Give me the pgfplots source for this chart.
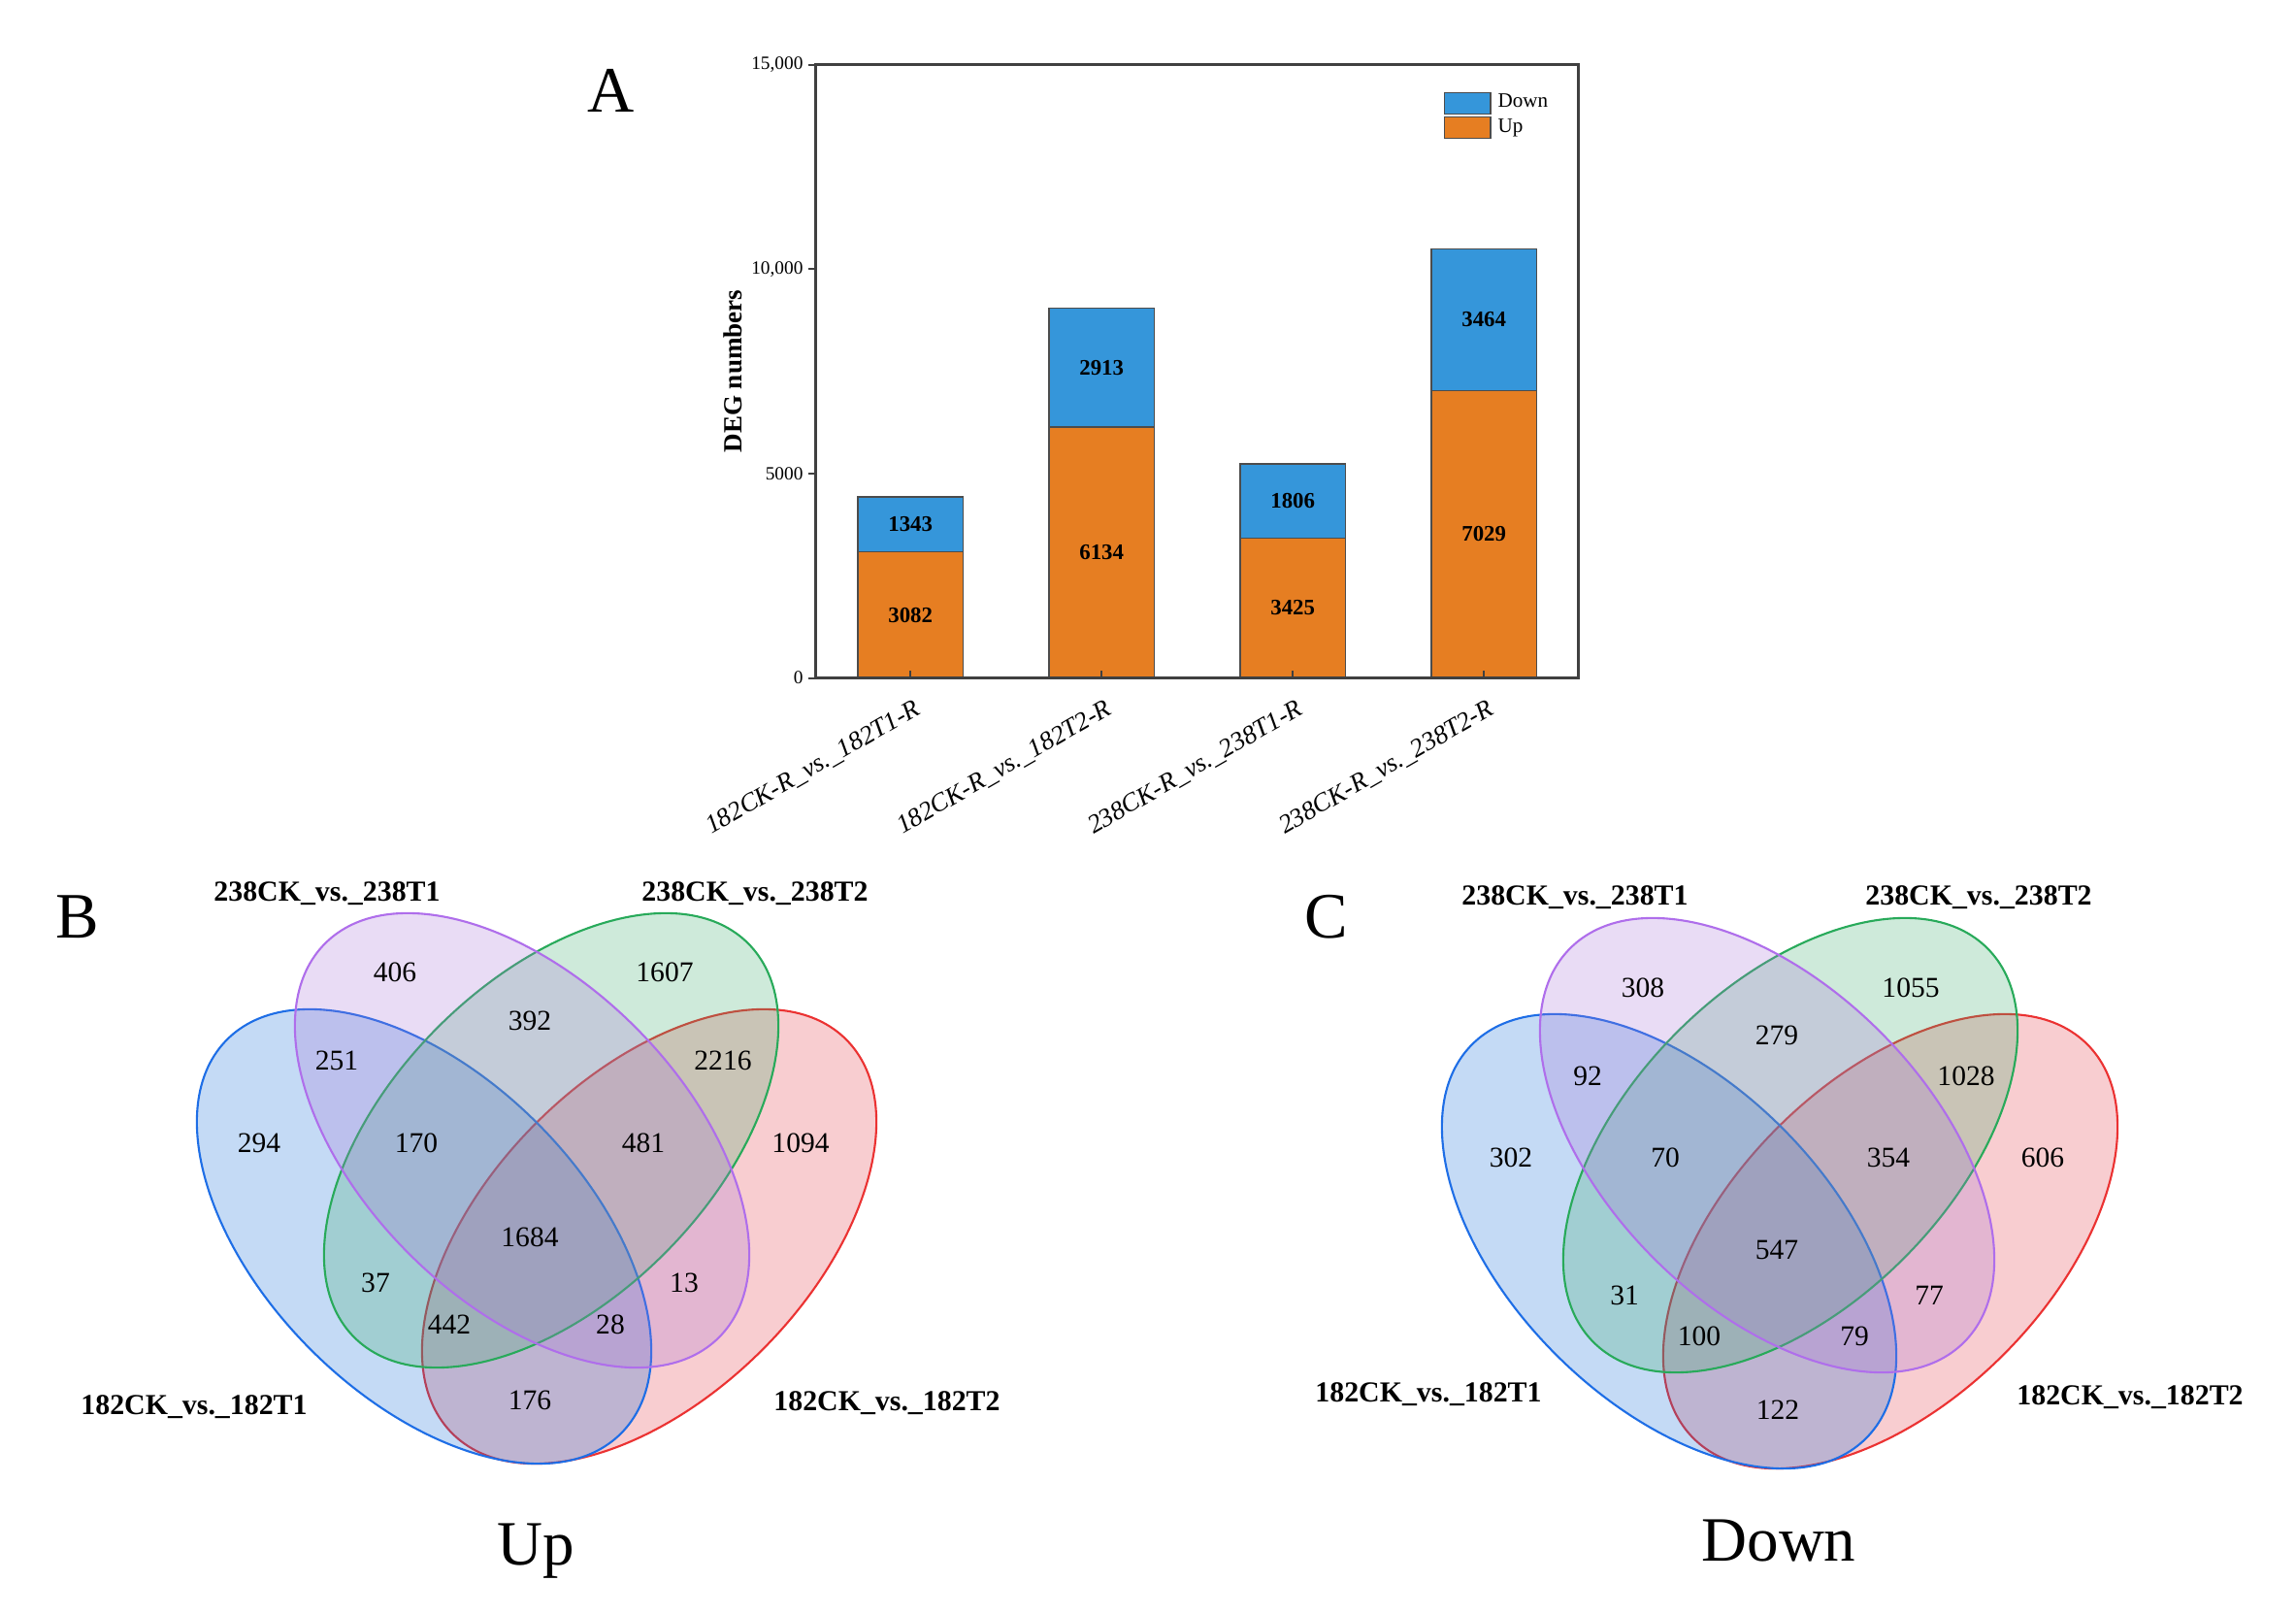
\documentclass[border=0pt]{standalone}
\usepackage{fontspec}
\setmainfont{Liberation Serif}
\usepackage{pgfplots}
\usepackage{pgfplotstable}
\pgfplotsset{compat=1.18}
\definecolor{barblue}{RGB}{53,150,218}
\definecolor{barorange}{RGB}{230,126,34}
\definecolor{vblue}{RGB}{19,107,215}
\definecolor{vpurple}{RGB}{167,115,215}
\definecolor{vgreen}{RGB}{59,171,107}
\definecolor{vred}{RGB}{227,55,67}
\definecolor{lblue}{RGB}{30,110,230}
\definecolor{lpurple}{RGB}{175,110,235}
\definecolor{lgreen}{RGB}{40,170,90}
\definecolor{lred}{RGB}{235,50,50}
\newcommand\fs[1]{\fontsize{#1}{#1}\selectfont}
\newcommand\venn[5]{\path[fill=#1, fill opacity=0.25, draw=#2, draw opacity=1, line width=0.6pt, shift={(axis cs:#3,#4)}, rotate=#5] (0pt,0pt) ellipse [x radius=2.87cm, y radius=1.65cm];}

\pgfplotstableread{
x up down
0 3082 1343
1 6134 2913
2 3425 1806
3 7029 3464
}\bars

\pgfplotstableread{
x y n
407 1002 406
685 1002 1607
546 1052 392
347 1093 251
745 1093 2216
267 1178 294
825 1178 1094
429 1178 170
663 1178 481
546 1275 1684
387 1322 37
705 1322 13
463 1365 442
629 1365 28
546 1443 176
}\vennUp

\pgfplotstableread{
x y n
1693 1018 308
1969 1018 1055
1831 1067 279
1636 1109 92
2026 1109 1028
1557 1193 302
2105 1193 606
1716 1193 70
1946 1193 354
1831 1288 547
1674 1335 31
1988 1335 77
1751 1377 100
1911 1377 79
1832 1453 122
}\vennDown

\begin{document}
\begin{tikzpicture}
\useasboundingbox (0,0) rectangle (23.66cm,16.63cm);
% ---------------- Venn diagrams (overlay axis in image pixels) ----------------
\begin{axis}[at={(0cm,0cm)}, anchor=south west, scale only axis,
  width=23.66cm, height=16.63cm, xmin=0, xmax=2366, ymin=0, ymax=1663,
  y dir=reverse, hide axis, clip=false]
  % B (Up)
  \venn{vred}{lred}{669}{1274}{45}
  \venn{vblue}{lblue}{437}{1274}{-45}
  \venn{vgreen}{lgreen}{568}{1175}{45}
  \venn{vpurple}{lpurple}{538}{1175}{-45}
  % C (Down)
  \venn{vred}{lred}{1948}{1279}{45}
  \venn{vblue}{lblue}{1720}{1279}{-45}
  \venn{vgreen}{lgreen}{1845}{1180}{45}
  \venn{vpurple}{lpurple}{1821}{1180}{-45}

  \addplot[draw=none, nodes near coords, point meta=explicit symbolic,
    every node near coord/.append style={anchor=center, font=\fs{8.4}, text=black}]
    table[x=x, y=y, meta=n] {\vennUp};
  \addplot[draw=none, nodes near coords, point meta=explicit symbolic,
    every node near coord/.append style={anchor=center, font=\fs{8.4}, text=black}]
    table[x=x, y=y, meta=n] {\vennDown};

  \node[font=\bfseries\fs{8.5}] at (axis cs:337,921) {238CK\_vs.\_238T1};
  \node[font=\bfseries\fs{8.5}] at (axis cs:778,921) {238CK\_vs.\_238T2};
  \node[font=\bfseries\fs{8.5}] at (axis cs:200,1450) {182CK\_vs.\_182T1};
  \node[font=\bfseries\fs{8.5}] at (axis cs:914,1446) {182CK\_vs.\_182T2};
  \node[font=\bfseries\fs{8.5}] at (axis cs:1623,925) {238CK\_vs.\_238T1};
  \node[font=\bfseries\fs{8.5}] at (axis cs:2039,925) {238CK\_vs.\_238T2};
  \node[font=\bfseries\fs{8.5}] at (axis cs:1472,1437) {182CK\_vs.\_182T1};
  \node[font=\bfseries\fs{8.5}] at (axis cs:2195,1440) {182CK\_vs.\_182T2};

  \node[font=\fs{18.5}, anchor=base, inner sep=0pt] at (axis cs:552,1612) {Up};
  \node[font=\fs{18.5}, anchor=base, inner sep=0pt] at (axis cs:1833,1608) {Down};
  \node[font=\fs{19}, inner sep=0pt] at (axis cs:630,93) {A};
  \node[font=\fs{19}, inner sep=0pt] at (axis cs:80,945) {B};
  \node[font=\fs{19}, inner sep=0pt] at (axis cs:1367,945) {C};
\end{axis}

% ---------------- Bar chart A ----------------
\begin{axis}[at={(8.407cm,9.644cm)}, anchor=south west, scale only axis,
  width=7.86cm, height=6.32cm,
  xmin=-0.495, xmax=3.495, ymin=0, ymax=15000,
  axis on top,
  axis line style={black!75, line width=0.8pt},
  xtick={0,1,2,3},
  xticklabels={182CK-R\_vs.\_182T1-R, 182CK-R\_vs.\_182T2-R, 238CK-R\_vs.\_238T1-R, 238CK-R\_vs.\_238T2-R},
  ytick={0,5000,10000,15000},
  yticklabels={0,5000,{10,000},{15,000}},
  scaled y ticks=false,
  xtick pos=bottom, ytick pos=left,
  major tick length=0.08cm,
  tick style={black!75, line width=0.6pt},
  ytick style={xshift=-0.08cm},
  yticklabel style={font=\fs{5.5}, inner sep=1pt, xshift=-0.09cm},
  xticklabel style={font=\itshape\fs{7.6}, inner sep=0pt, xshift=0.03cm, yshift=-0.2cm, rotate=30, anchor=north east},
  ylabel={DEG numbers},
  every axis y label/.style={at={(axis description cs:-0.109,0.5)}, rotate=90, anchor=center, font=\bfseries\fs{7.7}},
  legend cell align=left,
  legend style={at={(0.822,0.964)}, anchor=north west, draw=none, fill=none, font=\fs{6}, inner sep=0pt, row sep=-0.08cm},
  legend image code/.code={\draw[#1, draw=black!70, line width=0.4pt] (0cm,-0.11cm) rectangle (0.476cm,0.11cm);},
]
  \addplot[ybar, bar width=1.083cm, bar shift=0pt, fill=barblue, draw=black!70, line width=0.4pt]
    table[x=x, y expr=\thisrow{up}+\thisrow{down}] {\bars};
  \addlegendentry{Down}
  \addplot[ybar, bar width=1.083cm, bar shift=0pt, fill=barorange, draw=black!70, line width=0.4pt]
    table[x=x, y=up] {\bars};
  \addlegendentry{Up}
  \addplot[draw=none, forget plot, nodes near coords, point meta=explicit symbolic,
    every node near coord/.append style={anchor=center, font=\bfseries\fs{6.5}, text=black}]
    table[x=x, y expr=\thisrow{up}/2, meta=up] {\bars};
  \addplot[draw=none, forget plot, nodes near coords, point meta=explicit symbolic,
    every node near coord/.append style={anchor=center, font=\bfseries\fs{6.5}, text=black}]
    table[x=x, y expr=\thisrow{up}+\thisrow{down}/2, meta=down] {\bars};
\end{axis}
\end{tikzpicture}
\end{document}
